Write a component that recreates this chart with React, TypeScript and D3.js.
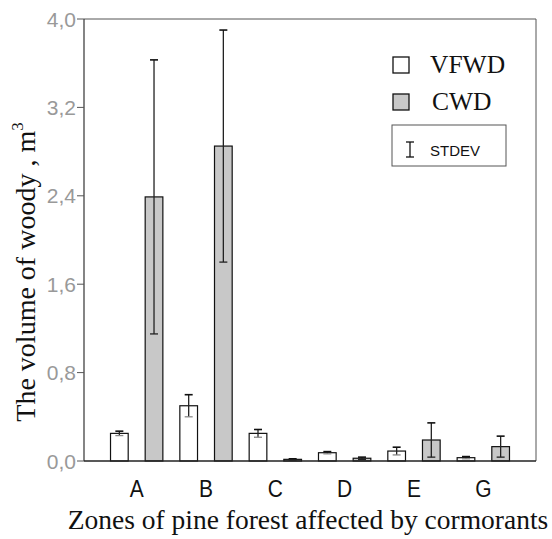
import React from "react";
import * as d3 from "d3";

const categories = ["A", "B", "C", "D", "E", "G"];
const seriesNames = ["VFWD", "CWD"];
const vfwdMean = [0.25, 0.5, 0.25, 0.075, 0.09, 0.03];
const vfwdSd = [0.02, 0.1, 0.035, 0.01, 0.035, 0.01];
const cwdMean = [2.39, 2.85, 0.015, 0.025, 0.19, 0.13];
const cwdSd = [1.24, 1.05, 0.005, 0.01, 0.155, 0.095];
const yTicks = [0, 0.8, 1.6, 2.4, 3.2, 4.0];

const W = 552, H = 539;
const left = 84, right = 536, top = 19, bottom = 461;

export default function App() {
  const x = d3.scaleBand<string>().domain(categories).range([left, right]).paddingInner(0).paddingOuter(0.26);
  const xi = d3.scaleBand<string>().domain(seriesNames).range([0, x.bandwidth()]).paddingInner(0.49).paddingOuter(0.245);
  const y = d3.scaleLinear().domain([0, 4]).range([bottom, top]);
  const fmt = (v: number) => v.toFixed(1).replace(".", ",");
  const fills: Record<string, string> = { VFWD: "#ffffff", CWD: "#c8c8c8" };
  const bars: { cat: string; s: string; m: number; sd: number }[] = [];
  categories.forEach((c, i) => {
    bars.push({ cat: c, s: "VFWD", m: vfwdMean[i], sd: vfwdSd[i] });
    bars.push({ cat: c, s: "CWD", m: cwdMean[i], sd: cwdSd[i] });
  });
  const serif = "'Liberation Serif', 'DejaVu Serif', serif";
  const sans = "'Liberation Sans', Arial, sans-serif";
  return (
    <svg width={W} height={H} style={{ position: "absolute", left: 0, top: 0, background: "#fff" }}>
      {/* frame */}
      <line x1={left} x2={right} y1={top} y2={top} stroke="#555" strokeWidth={1} />
      <line x1={right} x2={right} y1={top} y2={bottom} stroke="#555" strokeWidth={1} />
      {/* bars */}
      {bars.map((b, k) => {
        const bx = (x(b.cat) as number) + (xi(b.s) as number);
        const bw = xi.bandwidth();
        const cx = bx + bw / 2;
        const yt = y(b.m);
        return (
          <g key={k}>
            <rect x={bx} y={yt} width={bw} height={bottom - yt} fill={fills[b.s]} stroke="#111" strokeWidth={1.2} />
            <line x1={cx} x2={cx} y1={y(b.m + b.sd)} y2={y(Math.max(0, b.m - b.sd))} stroke="#222" strokeWidth={1.3} />
            <line x1={cx - 4} x2={cx + 4} y1={y(b.m + b.sd)} y2={y(b.m + b.sd)} stroke="#111" strokeWidth={1.6} />
            <line x1={cx - 4} x2={cx + 4} y1={y(Math.max(0, b.m - b.sd))} y2={y(Math.max(0, b.m - b.sd))} stroke={b.s === "VFWD" ? "#888" : "#222"} strokeWidth={1.3} />
          </g>
        );
      })}
      {/* axes */}
      <line x1={left} x2={left} y1={top} y2={bottom} stroke="#333" strokeWidth={1.2} />
      <line x1={left} x2={right} y1={bottom} y2={bottom} stroke="#222" strokeWidth={1.6} />
      {yTicks.map((t) => (
        <g key={t}>
          <line x1={left - 7} x2={left} y1={y(t)} y2={y(t)} stroke="#555" strokeWidth={1} />
          <text x={left - 8} y={y(t)} dy="0.36em" textAnchor="end" fontFamily={sans} fontSize={21} fill="#999">{fmt(t)}</text>
        </g>
      ))}
      {categories.map((c) => (
        <text key={c} transform={`translate(${(x(c) as number) + x.bandwidth() / 2}, 497) scale(1, 1.12)`} textAnchor="middle" fontFamily={sans} fontSize={21} fill="#111">{c}</text>
      ))}
      <text x={308} y={529} textAnchor="middle" fontFamily={serif} fontSize={27.5} fill="#111">Zones of pine forest affected by cormorants</text>
      <text transform={`translate(35, 272) rotate(-90)`} textAnchor="middle" fontFamily={serif} fontSize={28} fill="#111">
        The volume of woody , m<tspan dy={-12} fontSize={17}>3</tspan>
      </text>
      {/* legend */}
      <rect x={393} y={57} width={16} height={16} fill="#fff" stroke="#111" strokeWidth={1.3} />
      <text x={430} y={73} fontFamily={serif} fontSize={25.5} fill="#111">VFWD</text>
      <rect x={393} y={94} width={16} height={16} fill="#c8c8c8" stroke="#111" strokeWidth={1.3} />
      <text x={432} y={110} fontFamily={serif} fontSize={25.5} fill="#111">CWD</text>
      <rect x={392} y={125} width={114} height={41} fill="none" stroke="#555" strokeWidth={1} />
      <line x1={410} x2={410} y1={142} y2={157} stroke="#111" strokeWidth={1.3} />
      <line x1={406} x2={414} y1={142} y2={142} stroke="#111" strokeWidth={1.3} />
      <line x1={406} x2={414} y1={157} y2={157} stroke="#111" strokeWidth={1.3} />
      <text x={430} y={156} fontFamily={sans} fontSize={15} fill="#111">STDEV</text>
    </svg>
  );
}
